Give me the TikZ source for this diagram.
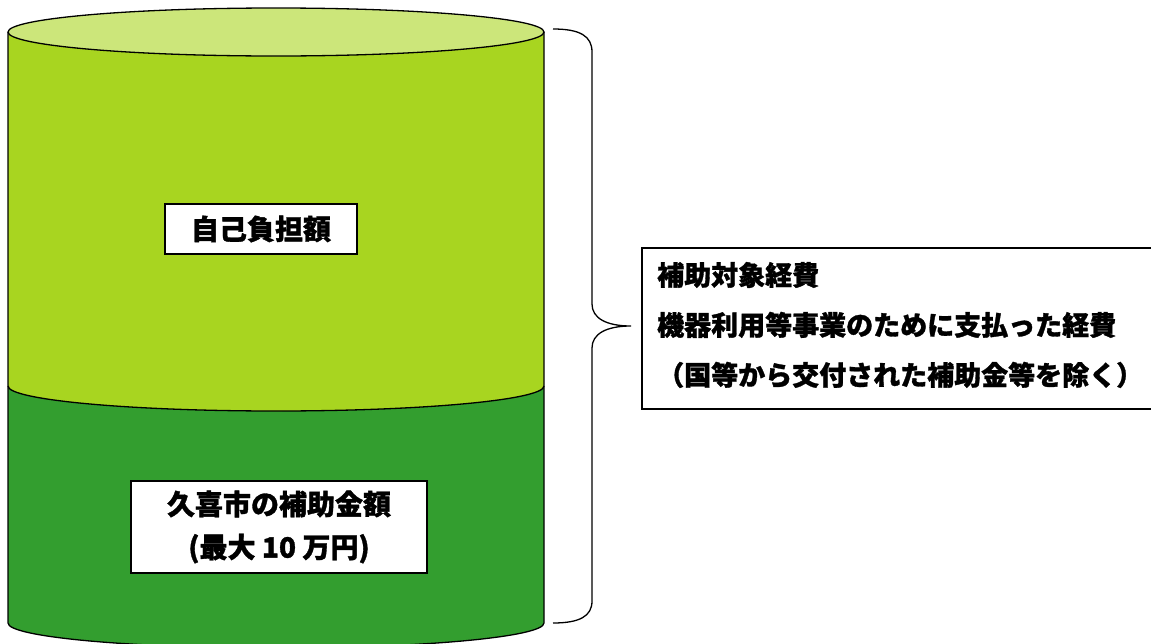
\documentclass[tikz,border=0pt]{standalone}
\usepackage{fontspec}
\newfontfamily\jp{Noto Sans CJK JP}[BoldFeatures={FakeBold=1.2}]
\usetikzlibrary{positioning}
\usetikzlibrary{calc}

\definecolor{lidgreen}{RGB}{204,230,122}
\definecolor{topgreen}{RGB}{168,213,32}
\definecolor{lowgreen}{RGB}{51,158,47}

\tikzset{
  label box/.style={draw=black,line width=1.2pt,fill=white,inner sep=0pt,font=\jp\bfseries\fontsize{28}{43}\selectfont,align=center},
  outline/.style={draw=black,line width=1.3pt}
}

\begin{document}
\begin{tikzpicture}[x=1pt,y=-1pt]
\useasboundingbox (0,0) rectangle (1151,643);
\clip (0,0) rectangle (1151,643);
% cylinder
\fill[lowgreen] (8,386) -- (8,623) arc[start angle=180,end angle=0,x radius=268,y radius=25] -- (544,386) arc[start angle=0,end angle=180,x radius=268,y radius=25] -- cycle;
\fill[topgreen] (8,32) -- (8,386) arc[start angle=180,end angle=0,x radius=268,y radius=25] -- (544,32) -- cycle;
\draw[outline] (8,32) -- (8,623) arc[start angle=180,end angle=0,x radius=268,y radius=25] -- (544,32);
\draw[outline] (8,386) arc[start angle=180,end angle=0,x radius=268,y radius=25];
\draw[outline,fill=lidgreen] (276,32) ellipse[x radius=268,y radius=24];
% labels
\node[label box,minimum width=192pt,minimum height=50pt] (own) at (261,229) {自己負担額};
\node[label box,minimum width=296pt,minimum height=92pt] (city) at (279,527) {久喜市の補助金額\\(最大 10 万円)};
% brace and expense box
\coordinate (tip) at (631,326);
\draw[line width=1.3pt] (553,29) .. controls (580,29) and (592,36) .. (592,52) -- (592,304) .. controls (592,318) and (606,326) .. (tip) .. controls (606,326) and (592,334) .. (592,348) -- (592,601) .. controls (592,616) and (580,623) .. (553,623);
\draw[line width=1.3pt] (642,248) rectangle (1170,409);
\node[anchor=west,inner sep=0pt,align=left,font=\jp\bfseries\fontsize{27}{50}\selectfont] (cost) at (657,325) {補助対象経費\\機器利用等事業のために支払った経費\\（国等から交付された補助金等を除く）};
\end{tikzpicture}
\end{document}
